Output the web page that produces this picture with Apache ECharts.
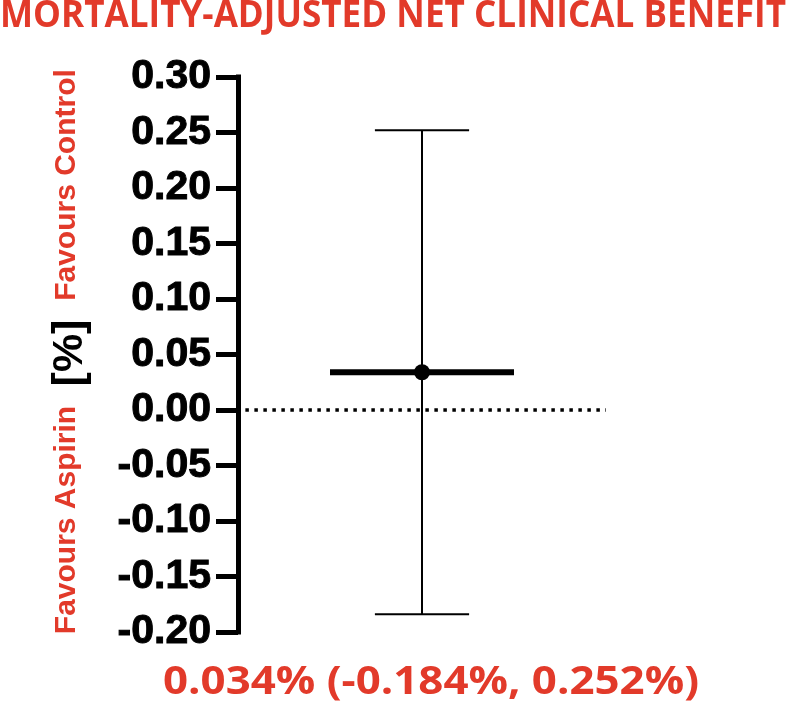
<!DOCTYPE html>
<html>
<head>
<meta charset="utf-8">
<title>Mortality-adjusted net clinical benefit</title>
<script src="https://cdn.jsdelivr.net/npm/echarts@6/dist/echarts.min.js"></script>
<style>
  html, body { margin: 0; padding: 0; background: #fff; }
  #chart { width: 787px; height: 705px; }
</style>
</head>
<body>
<div id="chart"></div>
<script>
// data
var groups = ['Mortality-adjusted NCB'];
var groupX = [0.5];
var estimate = [0.034];
var lower = [-0.184];
var upper = [0.252];
var yMin = -0.20, yMax = 0.30, yStep = 0.05;
var titleText = 'MORTALITY-ADJUSTED NET CLINICAL BENEFIT';
var resultText = '0.034% (-0.184%, 0.252%)';

var RED = '#e23a2a';

// squeeze a text line to a given width
function fitScale(text, font, width) {
  var ctx = document.createElement('canvas').getContext('2d');
  ctx.font = font;
  return width / ctx.measureText(text).width;
}

var titleFont = 'bold 37px "Open Sans"';
var resultFont = 'bold 39px "Open Sans"';

var chart = echarts.init(document.getElementById('chart'), null, {renderer: 'canvas'});

var option = {
  animation: false,
  grid: { left: 238, top: 77, width: 368, height: 555 },
  xAxis: { type: 'value', min: 0, max: 1, show: false },
  yAxis: {
    type: 'value', min: yMin, max: yMax, interval: yStep,
    splitLine: { show: false },
    axisLine: { show: true, lineStyle: { color: '#000', width: 5, cap: 'square' } },
    axisTick: { show: true, length: 22, lineStyle: { color: '#000', width: 5 } },
    axisLabel: {
      margin: 27, color: '#000', fontSize: 41, fontWeight: 'bold',
      fontFamily: '"Liberation Sans"',
      textBorderColor: '#000', textBorderWidth: 1,
      formatter: function (v) { return v.toFixed(2); }
    }
  },
  series: [
    {
      type: 'line',
      data: [[0.02, 0], [1, 0]],
      symbol: 'none',
      silent: true,
      lineStyle: { color: '#000', width: 3.5, type: [3.5, 5.5] }
    },
    {
      type: 'custom',
      name: groups[0],
      data: groupX.map(function (x, i) { return [x, estimate[i], lower[i], upper[i]]; }),
      renderItem: function (params, api) {
        var x = api.value(0);
        var pMid = api.coord([x, api.value(1)]);
        var pLo = api.coord([x, api.value(2)]);
        var pHi = api.coord([x, api.value(3)]);
        var capL = api.coord([x - 0.128, 0])[0];
        var capR = api.coord([x + 0.128, 0])[0];
        var barL = api.coord([x - 0.25, 0])[0];
        var barR = api.coord([x + 0.25, 0])[0];
        var thin = { stroke: '#000', lineWidth: 2 };
        return {
          type: 'group',
          children: [
            { type: 'line', shape: { x1: pLo[0], y1: pLo[1], x2: pHi[0], y2: pHi[1] }, style: thin },
            { type: 'line', shape: { x1: capL, y1: pHi[1], x2: capR, y2: pHi[1] }, style: thin },
            { type: 'line', shape: { x1: capL, y1: pLo[1], x2: capR, y2: pLo[1] }, style: thin },
            { type: 'line', shape: { x1: barL, y1: pMid[1], x2: barR, y2: pMid[1] }, style: { stroke: '#000', lineWidth: 6 } },
            { type: 'circle', shape: { cx: pMid[0], cy: pMid[1], r: 8 }, style: { fill: '#000' } }
          ]
        };
      }
    }
  ],
  graphic: [
    {
      type: 'text', x: 393, y: 16, scaleX: fitScale(titleText, titleFont, 786),
      style: { text: titleText, font: titleFont, fill: RED, align: 'center', verticalAlign: 'middle' }
    },
    {
      type: 'text', x: 431, y: 683, scaleX: fitScale(resultText, resultFont, 536),
      style: { text: resultText, font: resultFont, fill: RED, align: 'center', verticalAlign: 'middle' }
    },
    {
      type: 'text', x: 67, y: 185, rotation: Math.PI / 2,
      style: { text: 'Favours Control', font: 'bold 30px "Liberation Sans"', fill: RED, align: 'center', verticalAlign: 'middle' }
    },
    {
      type: 'text', x: 70, y: 353, rotation: Math.PI / 2,
      style: { text: '[%]', font: 'bold 43px "Liberation Sans"', fill: '#000', align: 'center', verticalAlign: 'middle' }
    },
    {
      type: 'text', x: 67, y: 520, rotation: Math.PI / 2,
      style: { text: 'Favours Aspirin', font: 'bold 30px "Liberation Sans"', fill: RED, align: 'center', verticalAlign: 'middle' }
    }
  ]
};

chart.setOption(option);
</script>
</body>
</html>
